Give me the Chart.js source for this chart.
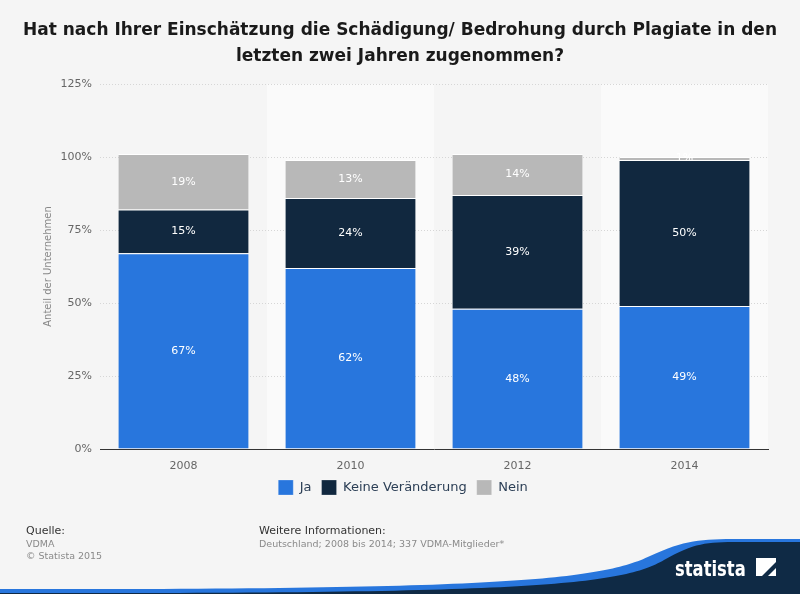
<!DOCTYPE html>
<html>
<head>
<meta charset="utf-8">
<script src="https://cdn.jsdelivr.net/npm/chart.js@4/dist/chart.umd.min.js"></script>
<style>
  html, body { margin: 0; padding: 0; background: #f5f5f5; }
  #wrap { width: 800px; height: 594px; }
</style>
</head>
<body>
<div id="wrap"><canvas id="chart" width="800" height="594"></canvas></div>
<script>
var years = ["2008", "2010", "2012", "2014"];
var jaValues = [67, 62, 48, 49];
var keineValues = [15, 24, 39, 50];
var neinValues = [19, 13, 14, 1];
var yTicks = [0, 25, 50, 75, 100, 125];

var titleLines = [
    "Hat nach Ihrer Einschätzung die Schädigung/ Bedrohung durch Plagiate in den",
    "letzten zwei Jahren zugenommen?"
];

// background + alternating column bands
var bgPlugin = {
    id: 'bg',
    beforeDraw: function (chart) {
        var ctx = chart.ctx, a = chart.chartArea;
        ctx.save();
        ctx.fillStyle = '#f5f5f5';
        ctx.fillRect(0, 0, chart.width, chart.height);
        var n = years.length;
        var w = (a.right - a.left) / n;
        ctx.fillStyle = '#fafafa';
        for (var i = 1; i < n; i += 2) {
            ctx.fillRect(a.left + i * w, a.top, w, a.bottom - a.top);
        }
        ctx.restore();
    }
};

// value labels inside the segments
var labelPlugin = {
    id: 'labels',
    afterDatasetsDraw: function (chart) {
        var ctx = chart.ctx;
        ctx.save();
        ctx.font = '11px "DejaVu Sans"';
        ctx.fillStyle = '#ffffff';
        ctx.textAlign = 'center';
        ctx.textBaseline = 'middle';
        chart.data.datasets.forEach(function (ds, di) {
            var meta = chart.getDatasetMeta(di);
            meta.data.forEach(function (bar, i) {
                var y = (bar.y + bar.base) / 2;
                ctx.fillText(ds.data[i] + '%', bar.x, y);
            });
        });
        ctx.restore();
    }
};

// title, footer, logo
var decoPlugin = {
    id: 'deco',
    afterDraw: function (chart) {
        var ctx = chart.ctx;
        ctx.save();
        ctx.fillStyle = '#1a1a1a';
        ctx.font = 'bold 17px "DejaVu Sans"';
        ctx.textAlign = 'center';
        ctx.textBaseline = 'middle';
        ctx.fillText(titleLines[0], 400, 31);
        ctx.fillText(titleLines[1], 400, 57);

        ctx.textAlign = 'left';
        ctx.font = '11px "DejaVu Sans"';
        ctx.fillStyle = '#333';
        ctx.fillText('Quelle:', 26, 531);
        ctx.fillText('Weitere Informationen:', 259, 531);
        ctx.font = '9.5px "DejaVu Sans"';
        ctx.fillStyle = '#8a8a8a';
        ctx.fillText('VDMA', 26, 545);
        ctx.fillText('© Statista 2015', 26, 557);
        ctx.fillText('Deutschland; 2008 bis 2014; 337 VDMA-Mitglieder*', 259, 545);

        // logo swoosh
        ctx.fillStyle = '#2876dd';
        ctx.beginPath();
        ctx.moveTo(0, 594);
        ctx.lineTo(0, 589);
        ctx.bezierCurveTo(500, 590, 600, 580, 650, 556);
        ctx.bezierCurveTo(685, 540, 700, 539, 740, 539);
        ctx.lineTo(800, 539);
        ctx.lineTo(800, 594);
        ctx.closePath();
        ctx.fill();
        ctx.fillStyle = '#0f2a45';
        ctx.beginPath();
        ctx.moveTo(0, 594);
        ctx.lineTo(0, 593);
        ctx.bezierCurveTo(520, 594, 620, 586, 664, 560);
        ctx.bezierCurveTo(695, 543, 705, 542, 740, 542);
        ctx.lineTo(800, 542);
        ctx.lineTo(800, 594);
        ctx.closePath();
        ctx.fill();

        ctx.fillStyle = '#ffffff';
        ctx.font = 'bold 21px "DejaVu Sans"';
        ctx.textBaseline = 'alphabetic';
        ctx.save();
        ctx.translate(675, 576);
        ctx.scale(0.78, 1);
        ctx.fillText('statista', 0, 0);
        ctx.restore();
        // icon
        ctx.beginPath();
        ctx.moveTo(756, 558); ctx.lineTo(776, 558); ctx.lineTo(776, 562);
        ctx.lineTo(762, 576); ctx.lineTo(756, 576); ctx.closePath();
        ctx.fill();
        ctx.beginPath();
        ctx.moveTo(768, 576); ctx.lineTo(776, 576); ctx.lineTo(776, 568); ctx.closePath();
        ctx.fill();
        ctx.restore();
    }
};

var segBorder = { top: 1, left: 0, right: 0, bottom: 0 };

new Chart(document.getElementById('chart'), {
    type: 'bar',
    data: {
        labels: years,
        datasets: [
            { label: 'Ja', data: jaValues, backgroundColor: '#2876dd', borderColor: '#ffffff', borderWidth: segBorder, borderSkipped: false },
            { label: 'Keine Veränderung', data: keineValues, backgroundColor: '#11283f', borderColor: '#ffffff', borderWidth: segBorder, borderSkipped: false },
            { label: 'Nein', data: neinValues, backgroundColor: '#b8b8b8', borderColor: '#ffffff', borderWidth: segBorder, borderSkipped: false }
        ]
    },
    options: {
        responsive: false,
        animation: false,
        layout: { padding: { top: 84, right: 32, bottom: 89, left: 38 } },
        datasets: { bar: { barPercentage: 0.78, categoryPercentage: 1.0 } },
        scales: {
            x: {
                stacked: true,
                grid: { display: false },
                border: { color: '#333', width: 1 },
                afterFit: function (scale) { scale.height = 21; },
                ticks: { color: '#666', font: { family: 'DejaVu Sans', size: 11 }, padding: 3 }
            },
            y: {
                stacked: true,
                min: 0,
                max: 125,
                afterFit: function (scale) { scale.width = 62; },
                afterBuildTicks: function (scale) {
                    scale.ticks = yTicks.map(function (v) { return { value: v }; });
                },
                border: { display: false, dash: [1, 2] },
                grid: { color: '#d6d6d6', drawTicks: false },
                ticks: {
                    color: '#666',
                    padding: 8,
                    font: { family: 'DejaVu Sans', size: 11 },
                    callback: function (v) { return v + '%'; }
                },
                title: {
                    display: true,
                    text: 'Anteil der Unternehmen',
                    color: '#888',
                    font: { family: 'DejaVu Sans', size: 10 }
                }
            }
        },
        plugins: {
            legend: {
                position: 'bottom',
                labels: {
                    boxWidth: 15,
                    boxHeight: 15,
                    padding: 10,
                    color: '#2b3e55',
                    font: { family: 'DejaVu Sans', size: 13 }
                }
            },
            tooltip: { enabled: false }
        }
    },
    plugins: [bgPlugin, labelPlugin, decoPlugin]
});
</script>
</body>
</html>
